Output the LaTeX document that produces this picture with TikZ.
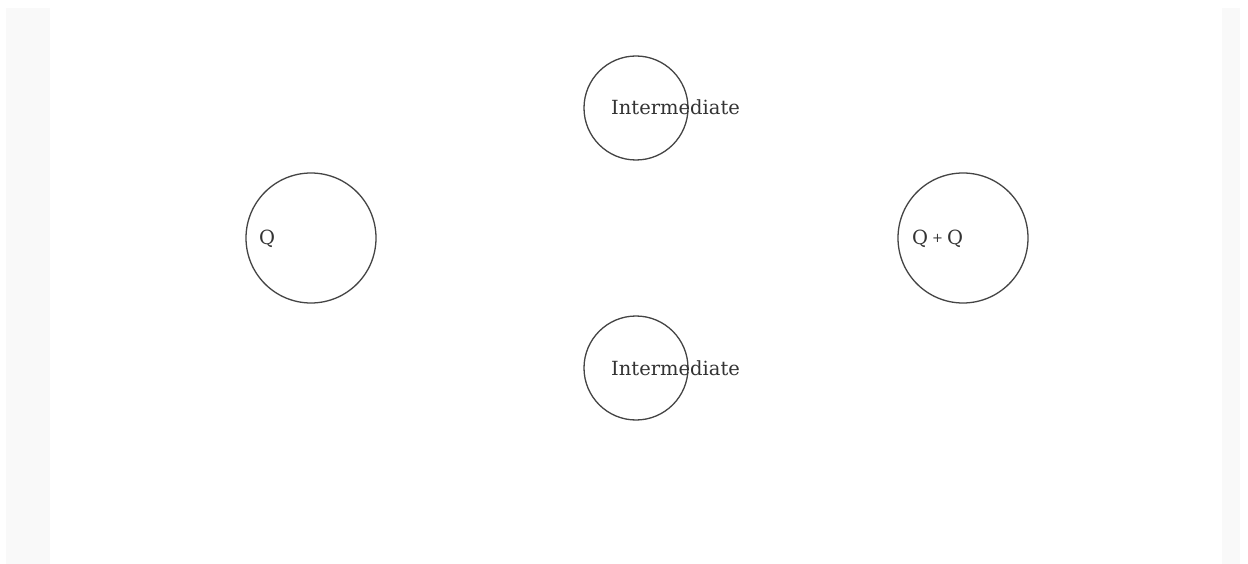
\documentclass[tikz,border=0pt]{standalone}
\usepackage{fontspec}
\setmainfont{DejaVu Serif}
\definecolor{strip}{HTML}{F9F9F9}
\definecolor{ink}{HTML}{333333}
\definecolor{edge}{HTML}{444444}
\begin{document}
\begin{tikzpicture}[x=1pt,y=-1pt,
  state/.style={circle,draw=edge,line width=1.3pt,inner sep=0pt},
  lbl/.style={anchor=base west,inner sep=0pt,text=ink,font=\fontsize{19.5}{22}\selectfont}]
\useasboundingbox (0,0) rectangle (1248,564);
\fill[white] (0,0) rectangle (1248,564);
\fill[strip] (6,8) rectangle (50,564);
\fill[strip] (1222,8) rectangle (1240,564);
\node[state,minimum size=130pt] (q) at (311,238) {};
\node[state,minimum size=130pt] (qq) at (963,238) {};
\node[state,minimum size=104pt] (i1) at (636,108) {};
\node[state,minimum size=104pt] (i2) at (636,368) {};
\node[lbl] (qt) at (259,245) {Q};
\node[lbl] (qqt) at (912,245) {Q\hspace{4pt}\raisebox{2.5pt}{\fontsize{13}{15}\selectfont +}\hspace{4pt}Q};
\node[lbl] (i1t) at (611,115) {Intermediate};
\node[lbl] (i2t) at (611,375) {Intermediate};
\end{tikzpicture}
\end{document}
